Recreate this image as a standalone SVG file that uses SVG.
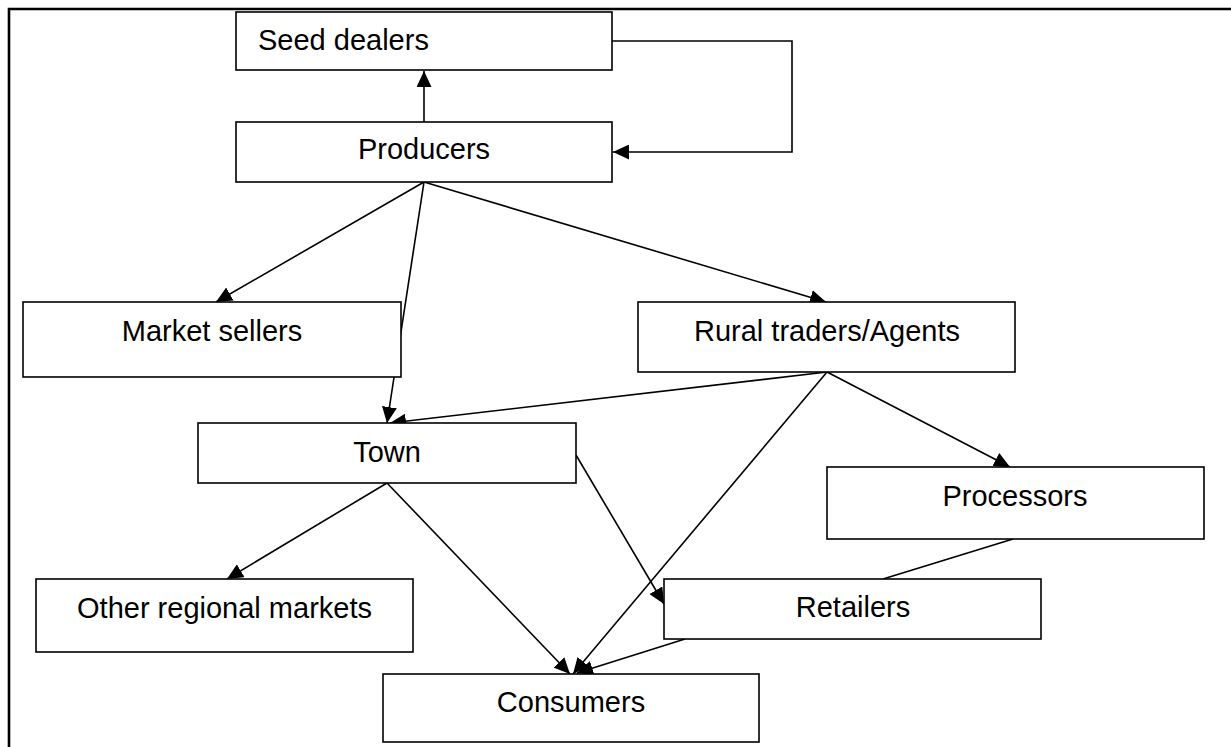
<svg xmlns="http://www.w3.org/2000/svg" width="1231" height="747" viewBox="0 0 1231 747">
<defs>
<marker id="arr" markerUnits="userSpaceOnUse" markerWidth="16" markerHeight="15" refX="16" refY="7.5" orient="auto">
<path d="M0,0 L16,7.5 L0,15 z" fill="#000"/>
</marker>
<style>
.box{fill:#fff;stroke:#000;stroke-width:1.6}
.lbl{font-family:"Liberation Sans",Arial,sans-serif;font-size:29px;fill:#000}
.c{text-anchor:middle}
.ln{fill:none;stroke:#000;stroke-width:1.6}
.a{marker-end:url(#arr)}
</style>
</defs>
<rect width="1231" height="747" fill="#fff"/>
<path d="M9,747 V9 H1231" fill="none" stroke="#000" stroke-width="2.6"/>
<g id="connectors">
<line class="ln a" x1="424" y1="122" x2="424" y2="71"/>
<polyline class="ln a" points="612,41 792,41 792,152 613,152"/>
<line class="ln a" x1="424" y1="182" x2="216" y2="302"/>
<line class="ln a" x1="424" y1="182" x2="387" y2="423"/>
<line class="ln a" x1="424" y1="182" x2="826" y2="302"/>
<line class="ln a" x1="827" y1="372" x2="390" y2="423"/>
<line class="ln a" x1="827" y1="372" x2="1010" y2="467"/>
<line class="ln a" x1="827" y1="372" x2="573" y2="674"/>
<line class="ln a" x1="387" y1="483" x2="227" y2="579"/>
<line class="ln a" x1="387" y1="483" x2="570" y2="674"/>
<line class="ln a" x1="576" y1="455" x2="664" y2="604"/>
<line class="ln a" x1="685" y1="639" x2="577" y2="673"/>
<line class="ln" x1="1013" y1="539" x2="883" y2="579"/>
</g>
<g id="seed-dealers"><rect class="box" x="236" y="12" width="376" height="58"/><text class="lbl" x="258" y="50">Seed dealers</text></g>
<g id="producers"><rect class="box" x="236" y="122" width="376" height="60"/><text class="lbl c" x="424" y="159">Producers</text></g>
<g id="market-sellers"><rect class="box" x="23" y="302" width="378" height="75"/><text class="lbl c" x="212" y="341">Market sellers</text></g>
<g id="rural-traders"><rect class="box" x="638" y="302" width="377" height="70"/><text class="lbl c" x="827" y="341">Rural traders/Agents</text></g>
<g id="town"><rect class="box" x="198" y="423" width="378" height="60"/><text class="lbl c" x="387" y="462">Town</text></g>
<g id="processors"><rect class="box" x="827" y="467" width="377" height="72"/><text class="lbl c" x="1015" y="506">Processors</text></g>
<g id="other-regional-markets"><rect class="box" x="36" y="579" width="377" height="73"/><text class="lbl c" x="224.5" y="618">Other regional markets</text></g>
<g id="retailers"><rect class="box" x="664" y="579" width="377" height="60"/><text class="lbl c" x="853" y="617">Retailers</text></g>
<g id="consumers"><rect class="box" x="383" y="674" width="376" height="68"/><text class="lbl c" x="571" y="712">Consumers</text></g>
</svg>
